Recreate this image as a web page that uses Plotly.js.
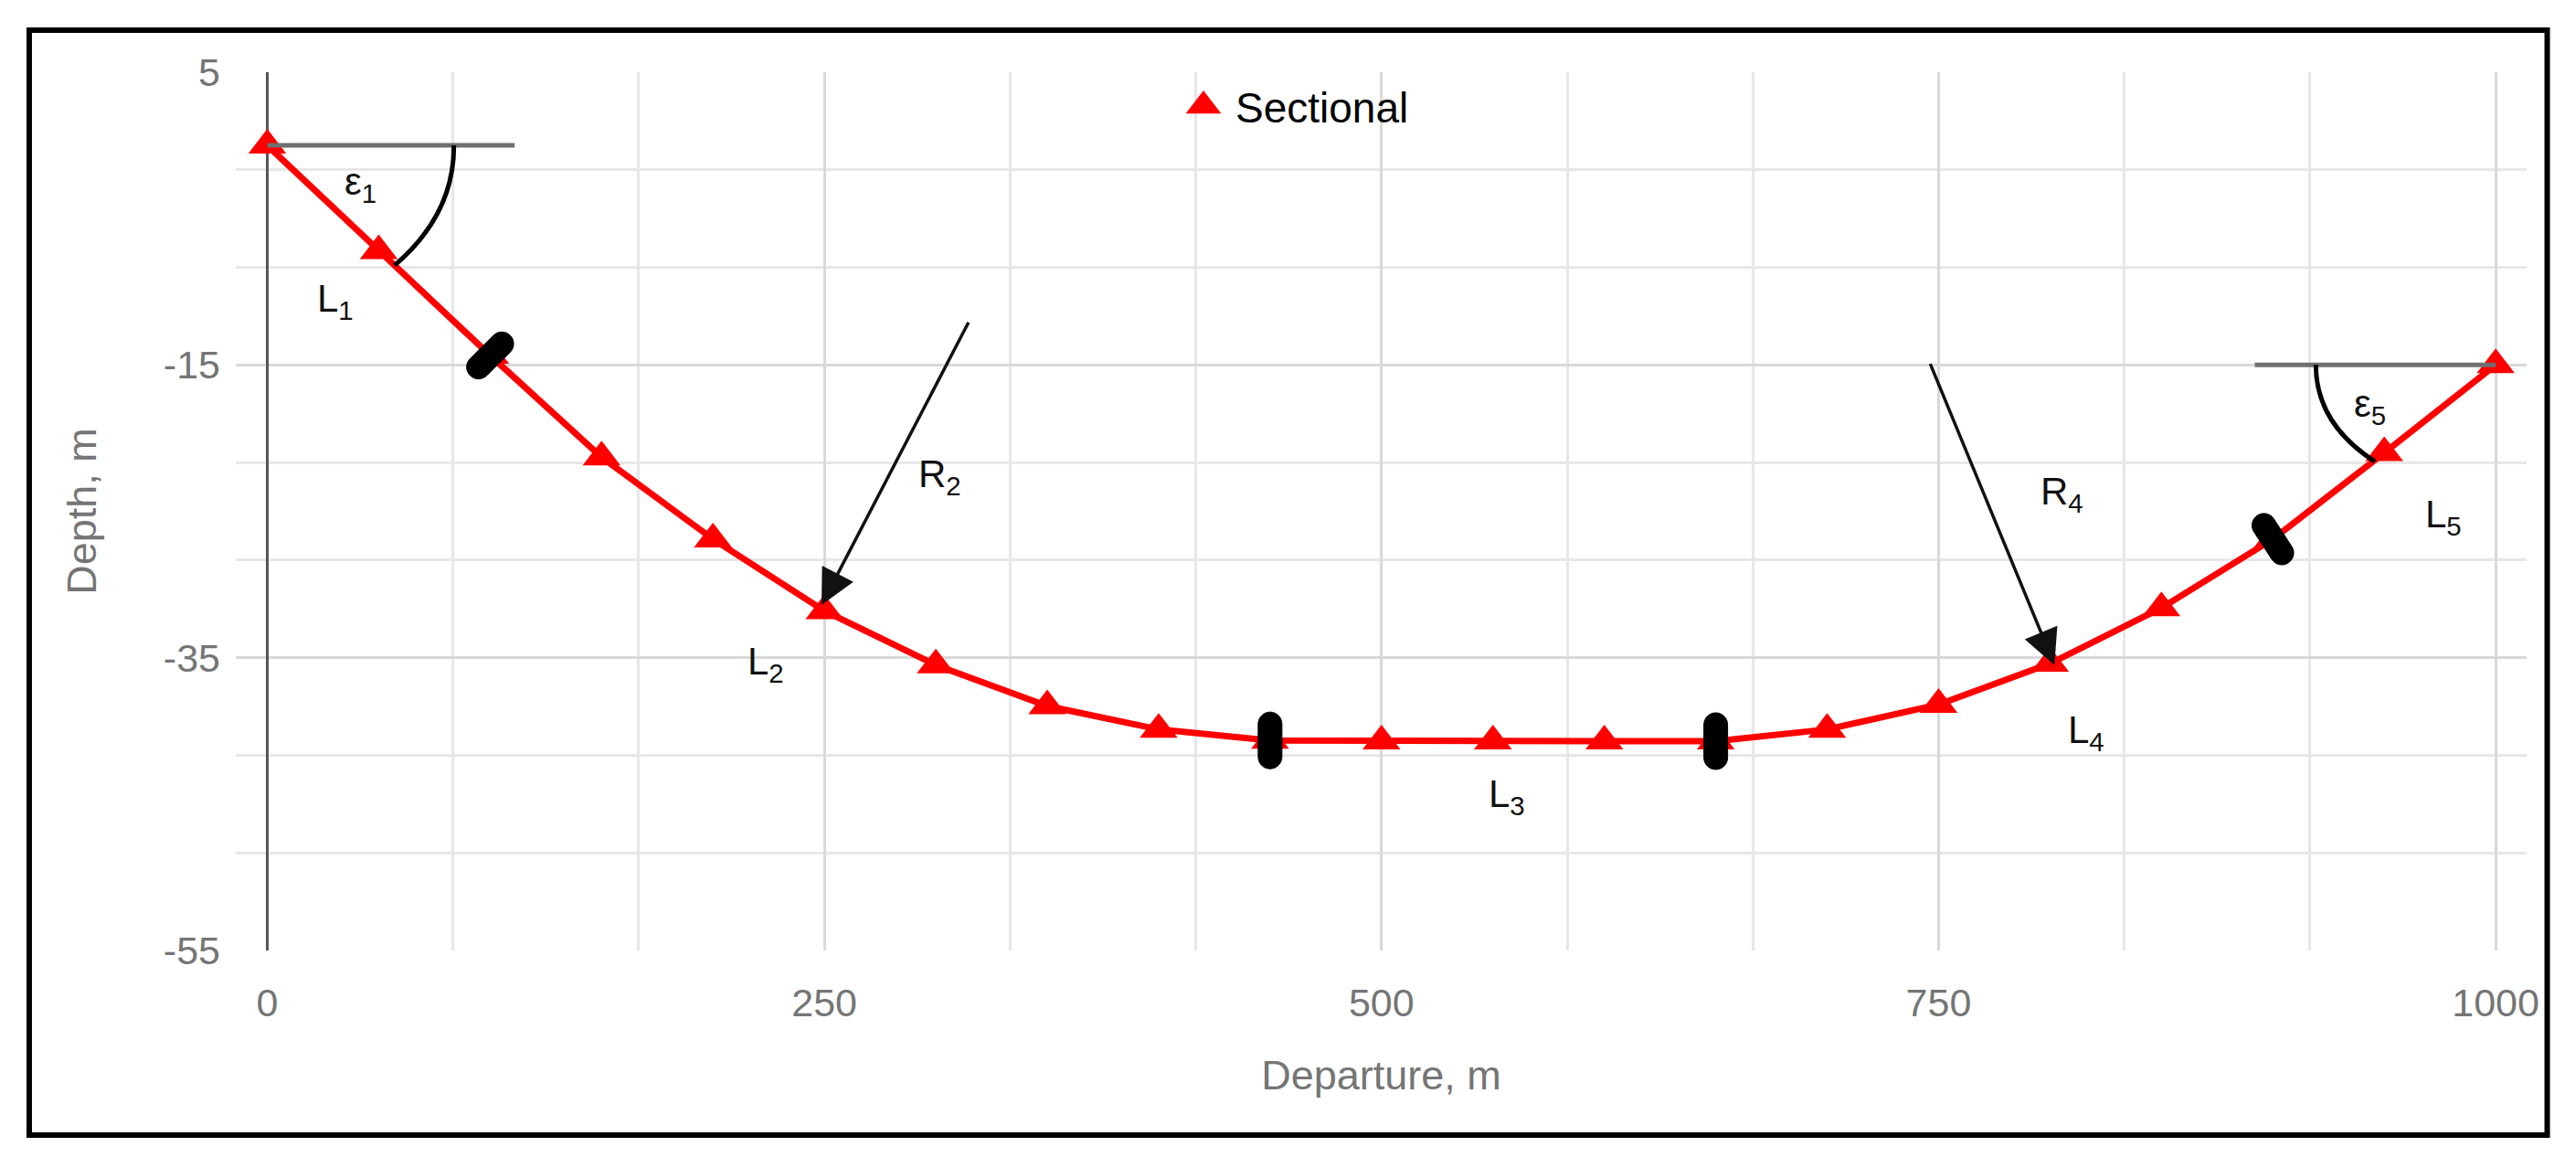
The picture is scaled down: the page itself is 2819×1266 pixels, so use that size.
<!DOCTYPE html>
<html>
<head>
<meta charset="utf-8">
<script src="https://cdn.plot.ly/plotly-3.0.1.min.js"></script>
<style>html,body{margin:0;padding:0;background:#fff;}</style>
</head>
<body>
<div id="chart" style="width:2819px;height:1266px;"></div>
<script>
// ---------------- data ----------------
const departure = [0, 50, 100, 150, 200, 250, 300, 350, 400, 450, 500, 550, 600, 650, 700, 750, 800, 850, 900, 950, 1000];
const depth     = [0, -7.2, -14.35, -21.3, -26.9, -31.8, -35.5, -38.3, -39.9, -40.65, -40.7, -40.7, -40.7, -40.7, -39.9, -38.2, -35.4, -31.6, -26.9, -21.0, -15.0];
const seriesName = 'Sectional';
const xTitle = 'Departure, m';
const yTitle = 'Depth, m';
const xTickStep = 250;
const yTickVals = [5, -15, -35, -55];
const yTickText = ['5', '-15', '-35', '-55'];

// segment boundaries (black pills)
const boundaryX = [100, 450, 650, 900];
const boundaryY = [-14.35, -40.65, -40.7, -26.9];
const boundaryAngle = [45, 90, 90, -57];

// text labels
const labelText = ['ε<sub>1</sub>', 'L<sub>1</sub>', 'R<sub>2</sub>', 'L<sub>2</sub>', 'L<sub>3</sub>', 'R<sub>4</sub>', 'L<sub>4</sub>', 'ε<sub>5</sub>', 'L<sub>5</sub>'];
const labelX = [42, 30.4, 301.8, 223.6, 556.4, 805.3, 816.4, 943.5, 976.7];
const labelY = [-2.66, -10.67, -22.6, -35.4, -44.5, -23.8, -40.1, -17.85, -25.4];

// radius arrows
const arrowTailX = [315, 746];
const arrowTailY = [-12.0, -14.83];
const arrowHeadX = [248.7, 802];
const arrowHeadY = [-31.4, -35.5];

// angle reference lines and arcs
const refLineX0 = [0, 891.9];
const refLineX1 = [111, 1000];
const refLineY = [0, -15];
const arcStart = [[83.7, 0], [919.3, -15]];
const arcCtrl  = [[84, -4.7], [919.3, -19.0]];
const arcEnd   = [[57.1, -8.2], [945.8, -21.6]];

// ---------------- layout geometry ----------------
const W = 2819, H = 1266;
const plotL = 258, plotR = 2765, plotT = 79, plotB = 1040;
const px2paperX = p => (p - plotL) / (plotR - plotL);
const px2paperY = p => (plotB - p) / (plotB - plotT);

const grey = '#757575';
const font = 'Liberation Sans, Arial, sans-serif';
const labelFont = 'Liberation Sans Narrow, Arial Narrow, Liberation Sans, Arial, sans-serif';

function pillPath(angleDeg, len, thick) {
  const t = angleDeg * Math.PI / 180;
  const u = [Math.cos(t), Math.sin(t)], n = [-Math.sin(t), Math.cos(t)];
  const r = thick / 2, a = (len - thick) / 2, k = 0.5523 * r;
  const P = (cu, cn) => (cu * u[0] + cn * n[0]).toFixed(2) + ',' + (cu * u[1] + cn * n[1]).toFixed(2);
  return 'M' + P(a, r) + ' L' + P(-a, r) +
    ' C' + P(-a - k, r) + ' ' + P(-a - r, k) + ' ' + P(-a - r, 0) +
    ' C' + P(-a - r, -k) + ' ' + P(-a - k, -r) + ' ' + P(-a, -r) +
    ' L' + P(a, -r) +
    ' C' + P(a + k, -r) + ' ' + P(a + r, -k) + ' ' + P(a + r, 0) +
    ' C' + P(a + r, k) + ' ' + P(a + k, r) + ' ' + P(a, r) + ' Z';
}

const shapes = [];
// outer frame
shapes.push({type: 'rect', xref: 'paper', yref: 'paper',
  x0: px2paperX(32), x1: px2paperX(2787.5), y0: px2paperY(1242), y1: px2paperY(33),
  line: {color: '#000', width: 6}, fillcolor: 'rgba(0,0,0,0)', layer: 'above'});
// reference lines
for (let i = 0; i < refLineX0.length; i++) {
  shapes.push({type: 'line', xref: 'x', yref: 'y', x0: refLineX0[i], x1: refLineX1[i], y0: refLineY[i], y1: refLineY[i],
    line: {color: '#6f6f6f', width: 5}, layer: 'above'});
}
// arcs
for (let i = 0; i < arcStart.length; i++) {
  shapes.push({type: 'path', xref: 'x', yref: 'y',
    path: 'M' + arcStart[i][0] + ',' + arcStart[i][1] + ' Q' + arcCtrl[i][0] + ',' + arcCtrl[i][1] + ' ' + arcEnd[i][0] + ',' + arcEnd[i][1],
    line: {color: '#000', width: 5}, layer: 'above'});
}
// pills
for (let i = 0; i < boundaryX.length; i++) {
  shapes.push({type: 'path', xref: 'x', yref: 'y', xsizemode: 'pixel', ysizemode: 'pixel',
    xanchor: boundaryX[i], yanchor: boundaryY[i], path: pillPath(boundaryAngle[i], 62, 26),
    fillcolor: '#000', line: {color: '#000', width: 1}, layer: 'above'});
}

const annotations = [];
for (let i = 0; i < labelText.length; i++) {
  annotations.push({x: labelX[i], y: labelY[i], xref: 'x', yref: 'y', text: labelText[i], showarrow: false,
    font: {family: labelFont, size: 42, color: '#111'}, xanchor: 'center', yanchor: 'middle'});
}
for (let i = 0; i < arrowTailX.length; i++) {
  annotations.push({x: arrowHeadX[i], y: arrowHeadY[i], ax: arrowTailX[i], ay: arrowTailY[i],
    xref: 'x', yref: 'y', axref: 'x', ayref: 'y', text: '', showarrow: true,
    arrowhead: 2, arrowsize: 2.2, arrowwidth: 3.5, arrowcolor: '#111', standoff: 0});
}

const traces = [
  {x: departure, y: depth, type: 'scatter', mode: 'lines', line: {color: '#ff0000', width: 7},
   showlegend: false, hoverinfo: 'skip', cliponaxis: false},
  {x: departure, y: depth, type: 'scatter', mode: 'markers', name: seriesName,
   marker: {symbol: 'triangle-up', size: 36, color: '#ff0000'}, cliponaxis: false}
];

const layout = {
  width: W, height: H,
  margin: {l: plotL, r: W - plotR, t: plotT, b: H - plotB, pad: 0},
  paper_bgcolor: '#fff', plot_bgcolor: '#fff',
  font: {family: font, color: grey},
  showlegend: true,
  legend: {x: px2paperX(1282), y: px2paperY(116), xanchor: 'left', yanchor: 'middle',
    bgcolor: 'rgba(0,0,0,0)', font: {family: font, size: 46, color: '#000'}, itemwidth: 60},
  xaxis: {
    range: [-14.15, 1013.9], tick0: 0, dtick: xTickStep, ticks: '', showline: false,
    showgrid: true, gridcolor: '#d9d9d9', gridwidth: 3,
    minor: {dtick: xTickStep / 3, showgrid: true, gridcolor: '#e7e7e7', gridwidth: 3, ticks: ''},
    zeroline: true, zerolinecolor: '#555', zerolinewidth: 3.5,
    tickfont: {family: font, size: 43, color: grey}, ticklabelstandoff: 28,
    title: {text: xTitle, font: {family: font, size: 45, color: grey}, standoff: 40}
  },
  yaxis: {
    range: [-55, 5], tickmode: 'array', tickvals: yTickVals, ticktext: yTickText, ticks: '', showline: false,
    showgrid: true, gridcolor: '#d9d9d9', gridwidth: 3,
    minor: {tick0: 5, dtick: 20 / 3, showgrid: true, gridcolor: '#e7e7e7', gridwidth: 3, ticks: ''},
    zeroline: false,
    tickfont: {family: font, size: 43, color: grey}, ticklabelstandoff: 16,
    title: {text: yTitle, font: {family: font, size: 45, color: grey}, standoff: 59}
  },
  shapes: shapes,
  annotations: annotations
};

Plotly.newPlot('chart', traces, layout, {displayModeBar: false, staticPlot: true}).then(function () {
  document.querySelectorAll('.legend .legendpoints path.scatterpts').forEach(function (p) {
    const tr = p.getAttribute('transform') || '';
    p.setAttribute('transform', tr + ' scale(2.1)');
  });
});
</script>
</body>
</html>
